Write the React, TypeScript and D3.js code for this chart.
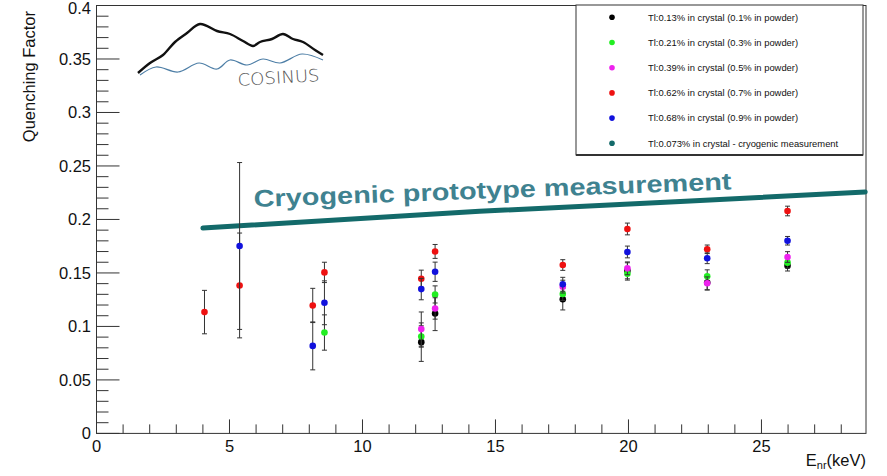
import React from "react";
import * as d3 from "d3";

// ---------- data ----------
const xTicks = [0, 5, 10, 15, 20, 25];
const yTicks = [0, 0.05, 0.1, 0.15, 0.2, 0.25, 0.3, 0.35, 0.4];

const seriesLabels = [
  "Tl:0.13% in crystal (0.1% in powder)",
  "Tl:0.21% in crystal (0.3% in powder)",
  "Tl:0.39% in crystal (0.5% in powder)",
  "Tl:0.62% in crystal (0.7% in powder)",
  "Tl:0.68% in crystal (0.9% in powder)",
  "Tl:0.073% in crystal - cryogenic measurement",
];
const seriesColors = ["#000000", "#22ee22", "#ee22ee", "#ee1111", "#1111dd", "#136a6a"];

const blackX = [12.21, 12.73, 17.53, 19.96, 22.96, 25.98];
const blackY = [0.0853, 0.1121, 0.1254, 0.152, 0.141, 0.1568];
const blackErr = [0.018, 0.016, 0.01, 0.0075, 0.007, 0.005];

const greenX = [8.57, 12.21, 12.73, 17.53, 19.96, 22.96, 25.98];
const greenY = [0.0943, 0.0906, 0.1299, 0.1303, 0.1493, 0.1469, 0.1596];
const greenErr = [0.0165, 0.01, 0.008, 0.006, 0.006, 0.006, 0.005];

const magentaX = [12.21, 12.73, 17.53, 19.96, 22.96, 25.98];
const magentaY = [0.0975, 0.1168, 0.1372, 0.1543, 0.1403, 0.1649];
const magentaErr = [0.016, 0.01, 0.006, 0.006, 0.006, 0.005];

const redX = [4.06, 5.38, 8.13, 8.57, 12.21, 12.73, 17.53, 19.96, 22.96, 25.98];
const redY = [0.1134, 0.1383, 0.1196, 0.1505, 0.1446, 0.1701, 0.1574, 0.1911, 0.1721, 0.2079];
const redErr = [0.0203, 0.049, 0.016, 0.0095, 0.008, 0.0065, 0.005, 0.0055, 0.004, 0.0045];

const blueX = [5.38, 8.13, 8.57, 12.21, 12.73, 17.53, 19.96, 22.96, 25.98];
const blueY = [0.1752, 0.0818, 0.1221, 0.1349, 0.1511, 0.1394, 0.1696, 0.1637, 0.1801];
const blueErr = [0.078, 0.0224, 0.0205, 0.01, 0.009, 0.0065, 0.0055, 0.005, 0.004];

const cryoX = [4.0, 14.4, 21.95, 28.9];
const cryoY = [0.192, 0.2076, 0.2167, 0.2257];

// logo decoration (pixel coords)
const logoMountain: [number, number][] = [
  [138, 73], [150, 63], [163, 55], [175, 42], [187, 33], [200, 24], [217, 31],
  [230, 34], [243, 41], [253, 46], [260, 42], [272, 39], [283, 34], [293, 39],
  [303, 42], [315, 50], [323, 55],
];
const logoWave: [number, number][] = [
  [140, 75], [156, 67], [178, 72], [199, 63], [217, 69], [230, 60], [247, 65],
  [263, 59], [280, 63], [302, 54], [323, 60],
];

const W = 887;
const H = 476;
const FONT = "'Liberation Sans', Arial, Helvetica, sans-serif";

export default function App() {
  const x = d3.scaleLinear().domain([0, 28.93]).range([96.5, 866]);
  const y = d3.scaleLinear().domain([0, 0.4]).range([433.4, 5.5]);

  const series = [
    { xs: blackX, ys: blackY, es: blackErr, color: seriesColors[0] },
    { xs: greenX, ys: greenY, es: greenErr, color: seriesColors[1] },
    { xs: magentaX, ys: magentaY, es: magentaErr, color: seriesColors[2] },
    { xs: redX, ys: redY, es: redErr, color: seriesColors[3] },
    { xs: blueX, ys: blueY, es: blueErr, color: seriesColors[4] },
  ];

  const cryoLine = d3
    .line<number>()
    .x((_, i) => x(cryoX[i]))
    .y((d) => y(d))(cryoY) as string;

  const logoLine = d3.line().curve(d3.curveCatmullRom.alpha(0.5));

  const xMinor = d3.range(0, 29, 1);
  const yMinor = d3.range(0, 0.4001, 0.01);

  const x0 = x(0), x1 = x(28.93), y0 = y(0), y1 = y(0.4);

  return (
    <svg
      width={W}
      height={H}
      style={{ position: "absolute", left: 0, top: 0, background: "#fff" }}
      fontFamily={FONT}
    >
      <rect x={0} y={0} width={W} height={H} fill="#fff" />

      {/* frame */}
      <rect x={x0} y={y1} width={x1 - x0} height={y0 - y1} fill="none" stroke="#333" strokeWidth={1} />

      {/* y ticks */}
      {yMinor.map((v, i) => {
        const major = i % 5 === 0;
        return (
          <line key={"ym" + i} x1={x0} x2={x0 + (major ? 23 : 12)} y1={y(v)} y2={y(v)} stroke="#333" strokeWidth={1} />
        );
      })}
      {yTicks.map((v) => (
        <text
          key={"yl" + v}
          x={91}
          y={Math.max(y(v), 8.5)}
          dy="0.36em"
          textAnchor="end"
          fontSize={16.5}
          fill="#111"
        >
          {v === 0 ? "0" : String(v)}
        </text>
      ))}

      {/* x ticks */}
      {xMinor.map((v) => {
        const major = v % 5 === 0;
        return (
          <line key={"xm" + v} x1={x(v)} x2={x(v)} y1={y0} y2={y0 - (major ? 14 : 9)} stroke="#333" strokeWidth={1} />
        );
      })}
      {xTicks.map((v) => (
        <text key={"xl" + v} x={x(v)} y={452} textAnchor="middle" fontSize={16.5} fill="#111">
          {v}
        </text>
      ))}

      {/* axis titles */}
      <text transform={`translate(35,11) rotate(-90)`} textAnchor="end" fontSize={16.5} fill="#111">
        Quenching Factor
      </text>
      <text x={866} y={466} textAnchor="end" fontSize={16.5} fill="#111">
        E<tspan fontSize={11} dy={3}>nr</tspan>
        <tspan dy={-3}>(keV)</tspan>
      </text>

      {/* cryogenic line */}
      <path d={cryoLine} fill="none" stroke={seriesColors[5]} strokeWidth={5} strokeLinecap="round" />

      {/* error bars + markers */}
      {series.map((s, si) => (
        <g key={"s" + si}>
          {s.xs.map((xv, i) => {
            const cx = x(xv);
            const yt = y(s.ys[i] + s.es[i]);
            const yb = y(s.ys[i] - s.es[i]);
            return (
              <g key={i} stroke="#333" strokeWidth={1}>
                <line x1={cx} x2={cx} y1={yt} y2={yb} />
                <line x1={cx - 2.5} x2={cx + 2.5} y1={yt} y2={yt} />
                <line x1={cx - 2.5} x2={cx + 2.5} y1={yb} y2={yb} />
              </g>
            );
          })}
          {s.xs.map((xv, i) => (
            <circle key={"c" + i} cx={x(xv)} cy={y(s.ys[i])} r={3.3} fill={s.color} />
          ))}
        </g>
      ))}

      {/* annotation */}
      <text
        transform={`translate(254,207) rotate(-2.1)`}
        fontSize={24}
        fontWeight="bold"
        fill="#3f8290"
        textLength={478}
        lengthAdjust="spacingAndGlyphs"
      >
        Cryogenic prototype measurement
      </text>

      {/* logo */}
      <path d={logoLine(logoMountain) as string} fill="none" stroke="#111" strokeWidth={2.4} strokeLinejoin="round" />
      <path d={logoLine(logoWave) as string} fill="none" stroke="#4d7ea6" strokeWidth={1.2} />
      <text
        transform="translate(238,86) rotate(-3.5)"
        fontFamily="'DejaVu Sans', sans-serif"
        fontWeight={200}
        fontSize={17}
        fill="#555"
        textLength={82}
        lengthAdjust="spacingAndGlyphs"
      >
        COSINUS
      </text>

      {/* legend */}
      <rect x={576} y={5} width={287} height={150} fill="#fff" stroke="#333" strokeWidth={1} />
      <line x1={576} x2={863} y1={155} y2={155} stroke="#333" strokeWidth={2} />
      {seriesLabels.map((lab, i) => {
        const ly = 17.3 + i * 25.2;
        return (
          <g key={"lg" + i}>
            <circle cx={612} cy={ly} r={2.8} fill={seriesColors[i]} />
            <text x={648} y={ly} dy="0.35em" fontSize={9.4} fill="#111">
              {lab}
            </text>
          </g>
        );
      })}
    </svg>
  );
}
